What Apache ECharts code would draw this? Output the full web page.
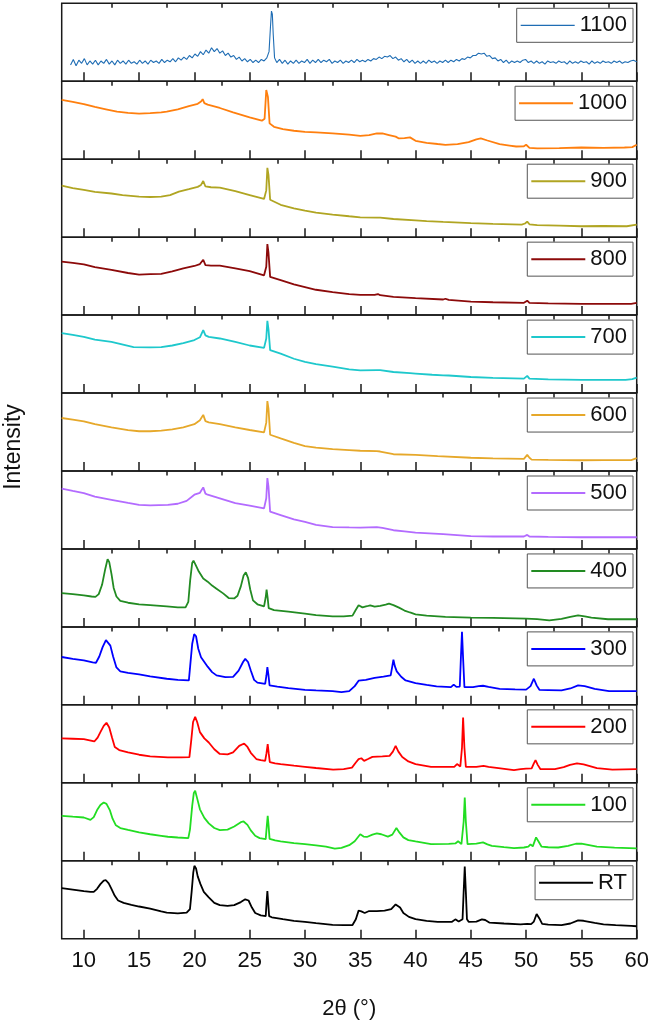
<!DOCTYPE html>
<html>
<head>
<meta charset="utf-8">
<script src="https://cdn.jsdelivr.net/npm/echarts@6/dist/echarts.min.js"></script>
<style>html,body{margin:0;padding:0;background:#fff;}#c{width:654px;height:1027px;}</style>
</head>
<body>
<div id="c"></div>
<script>
const names = ['1100','1000','900','800','700','600','500','400','300','200','100','RT'];
const colors = ['#1f6db4','#ff7f0e','#b0a522','#8c0a0a','#1ec8cc','#e6a82a','#b36bff','#228b22','#0000ff','#ff0000','#22dd22','#000000'];
const majorTicks = [10,15,20,25,30,35,40,45,50,55,60];
const minorTicks = [12.5,17.5,22.5,27.5,32.5,37.5,42.5,47.5,52.5,57.5];

const d1100 = [[8.8,21],[9.05,28],[9.3,20],[9.55,27],[9.8,23],[10.05,29],[10.3,21],[10.55,26],[10.8,22],[11.05,27],[11.3,21],[11.55,26],[11.8,23],[12.05,28],[12.3,22],[12.55,26],[12.8,21],[13.05,27],[13.3,23],[13.55,26],[13.8,22],[14.05,27],[14.3,23],[14.55,25],[14.8,22],[15.05,27],[15.3,23],[15.55,26],[15.8,22],[16.05,27],[16.3,24],[16.55,26],[16.8,23],[17.05,28],[17.3,24],[17.55,27],[17.8,25],[18.05,29],[18.3,25],[18.55,30],[18.8,27],[19.05,31],[19.3,28],[19.55,33],[19.8,30],[20.05,35],[20.3,32],[20.55,38],[20.8,34],[21.05,40],[21.3,36],[21.55,43],[21.8,38],[22.05,42],[22.3,36],[22.55,39],[22.8,33],[23.05,36],[23.3,31],[23.55,33],[23.8,28],[24.05,31],[24.3,26],[24.55,29],[24.8,25],[25.05,28],[25.3,24],[25.55,27],[25.8,24],[26.05,28],[26.3,26],[26.55,30],[26.75,38],[26.88,70],[26.97,90],[27.05,86],[27.13,60],[27.25,30],[27.45,24],[27.7,28],[27.95,23],[28.2,27],[28.45,22],[28.7,26],[28.95,23],[29.2,27],[29.45,23],[29.7,26],[29.95,24],[30.2,28],[30.45,23],[30.7,27],[30.95,24],[31.2,28],[31.45,24],[31.7,27],[31.95,25],[32.2,28],[32.45,23],[32.7,26],[32.95,24],[33.2,27],[33.45,23],[33.7,26],[33.95,24],[34.2,27],[34.45,24],[34.7,28],[34.95,25],[35.2,27],[35.45,25],[35.7,28],[35.95,26],[36.2,29],[36.45,28],[36.7,31],[36.95,29],[37.2,32],[37.45,31],[37.7,33],[37.95,29],[38.2,31],[38.45,27],[38.7,29],[38.95,25],[39.2,28],[39.45,24],[39.7,27],[39.95,23],[40.2,26],[40.45,23],[40.7,26],[40.95,23],[41.2,27],[41.45,24],[41.7,26],[41.95,23],[42.2,26],[42.45,24],[42.7,27],[42.95,24],[43.2,27],[43.45,25],[43.7,28],[43.95,26],[44.2,29],[44.45,28],[44.7,31],[44.95,30],[45.2,33],[45.45,33],[45.7,36],[45.95,35],[46.2,36],[46.45,32],[46.7,33],[46.95,29],[47.2,30],[47.45,26],[47.7,28],[47.95,24],[48.2,27],[48.45,23],[48.7,26],[48.95,24],[49.2,26],[49.45,24],[49.7,27],[49.95,28],[50.2,24],[50.45,26],[50.7,23],[50.95,26],[51.2,23],[51.45,25],[51.7,22],[51.95,26],[52.2,24],[52.45,25],[52.7,23],[52.95,26],[53.2,24],[53.45,25],[53.7,22],[53.95,26],[54.2,23],[54.45,25],[54.7,23],[54.95,26],[55.2,24],[55.45,25],[55.7,22],[55.95,26],[56.2,23],[56.45,25],[56.7,23],[56.95,26],[57.2,24],[57.45,25],[57.7,23],[57.95,26],[58.2,24],[58.45,26],[58.7,23],[58.95,25],[59.2,24],[59.45,26],[59.7,27],[59.85,29],[60,25]];
const d1000 = [[8,76],[9,73.5],[10,70.8],[11,67],[12,64],[13,61],[14,59.5],[15,58.5],[16,59],[17,60],[17.5,61],[18.5,64],[19.5,68],[20.3,71],[20.6,74],[20.75,77],[20.9,72],[21.2,70],[22.3,65.7],[23.5,60],[25,53.6],[26.1,49.4],[26.35,52],[26.5,88.8],[26.65,80],[26.8,46],[27.2,41.6],[28,38.5],[29,36.5],[30,35],[31,34.3],[32.5,33],[34,31.5],[35,30],[35.8,31],[36.5,33],[37,33],[37.6,31],[38.2,29],[38.5,26.6],[39,27],[39.5,28],[40,23.6],[41,21],[42,19.5],[42.7,18.5],[43.8,19.3],[44.8,22],[45.5,25.5],[45.9,26.6],[46.5,24],[47.6,19.3],[48.5,17.5],[49.1,16.3],[49.8,16.5],[50,18.5],[50.3,14.5],[51,14],[53,14.3],[55,15],[57,14.6],[58.9,15],[59.6,15.5],[60,18.5]];
const d900 = [[8,66],[9,63],[10,60.6],[11,58],[12.5,56],[13.5,54],[15,52],[16,51.5],[17,52],[17.8,54],[18.6,58.5],[19.5,61.5],[20.3,64.5],[20.6,67],[20.8,72],[21,65],[21.5,64],[22.3,63.5],[23.7,59],[25,54],[26.3,49],[26.5,60],[26.6,89],[26.7,80],[26.85,48],[27.8,41.5],[29,37],[30,34],[31,31.5],[32.5,29],[34,26.8],[35,25.4],[36.5,25],[36.6,26],[36.8,25],[38,23.3],[40,21.6],[41,20.5],[42.5,19.5],[45,18],[47,17],[49.6,16],[49.9,17.5],[50.1,20],[50.3,16.5],[51,15.5],[53,14.8],[55,14],[57,14.3],[59.1,14],[60,16]];
const d800 = [[8,68.7],[9,67],[10,65],[11,61.5],[12.5,58],[14,54],[15,52],[16,52.5],[17,53],[18,56],[19,60],[20,63],[20.5,65.5],[20.8,71],[21,64],[21.5,63.5],[22.3,63.5],[23.7,60],[25,56.5],[26.3,51],[26.5,62],[26.6,91],[26.7,80],[26.85,49],[27.8,45],[29,39.5],[30,36],[31,32.5],[32.5,29.6],[34,27],[35,26],[36.3,26],[36.6,27],[36.8,25.5],[38,23.5],[40,21.7],[42.5,20],[42.7,21],[43,19.5],[45,17.4],[47,16.5],[49.8,15.8],[50.1,18.5],[50.3,15.8],[52,15],[55,14.3],[57,14.3],[59.5,14.5],[60,15.6]];
const d700 = [[8,77],[9,74.5],[10,72],[11,68.5],[12.5,65.7],[14.5,59],[16,58.5],[17,59],[18,61],[19,64],[20,68],[20.5,71.5],[20.8,80.7],[21,74],[21.3,72],[22.3,70],[23.7,65.7],[25,61],[26.3,58],[26.5,70],[26.6,92.7],[26.7,82],[26.85,55],[27.8,50.6],[29,44],[30,40],[31,37],[32.5,34],[34,30.5],[35,29],[36.5,29.5],[36.6,31],[36.8,29.5],[38,27],[39.5,25.5],[39.6,26.5],[40,25],[41.5,23.5],[42.5,22.7],[42.6,24],[43,22.5],[45,20.6],[47,19.5],[49.8,18.5],[50.1,22],[50.3,18.5],[52,17.5],[55,17],[57,16.8],[59,17],[59.6,18],[60,19.7]];
const d600 = [[8,68],[9,66],[10,63.8],[11,60],[12.5,56],[14,52.5],[15,51],[16,51],[17,51.7],[18,53.5],[19,56],[20,60],[20.5,65],[20.8,72],[21,64],[21.3,62.5],[22.3,60],[23.7,56],[25,52.6],[26.3,49.6],[26.5,62],[26.6,89.7],[26.7,80],[26.85,46.5],[27.8,41.8],[29,36],[30,32],[31,30],[32.5,28],[34,26.8],[35,26],[36.5,25.5],[36.6,27],[36.8,25],[38,21.5],[40,20.7],[42,19],[45,17],[47,16.2],[49.8,15.5],[50.1,20.7],[50.3,17],[50.5,14.6],[52,14.3],[55,13.8],[57,13.9],[59.5,14],[60,16.4]];
const d500 = [[8,77.4],[9,74.5],[10,71.7],[11,67],[12.5,63],[14,59],[15,56.5],[16,56],[17.6,56.5],[18.5,58],[19.3,61.7],[20,69.6],[20.5,72],[20.8,79],[21,71],[21.2,69.6],[22.3,65],[23.7,58.7],[25,55.7],[26.3,52],[26.5,65],[26.6,91],[26.7,80],[26.85,47.8],[27.8,43.5],[29,38],[30,34.8],[31,31],[32.5,28],[34,27.6],[35,27.4],[36.5,28],[37,27],[38,24],[39,22.5],[40,21],[42.5,19],[45,16.5],[47,16],[49.8,16],[50.1,18],[50.3,16],[52,15.5],[55,15],[57,15.2],[59.5,15],[60,15]];
const d400 = [[8,43.4],[9,42],[10,40.4],[10.7,39],[11.05,38.5],[11.35,42],[11.65,54],[11.95,75],[12.15,87],[12.3,83],[12.5,68],[12.7,50],[12.95,39],[13.3,33.5],[14,31],[15,29],[16,28],[17.5,26.4],[18.5,25],[19.2,25],[19.45,32],[19.62,60],[19.8,82],[19.92,85],[20.1,80],[20.4,71],[20.8,62],[21.2,58],[21.6,53],[22,49],[22.6,43],[23.1,37],[23.6,36.5],[23.9,40],[24.2,52],[24.45,66],[24.65,70],[24.85,63],[25.05,48],[25.3,34],[25.7,29],[26.3,26.4],[26.45,38],[26.53,47.7],[26.62,38],[26.72,24],[27.2,21.5],[28.5,19.5],[30,17],[31,15],[32.5,13.6],[33.5,13.4],[34.3,14.5],[34.6,22],[34.85,27.7],[35.2,25],[35.6,26.5],[35.9,27.7],[36.3,26],[36.8,27],[37.3,28.5],[37.6,29.8],[38,28],[38.5,24.7],[39,21],[39.5,18.5],[40,16.2],[41,14.5],[42.7,12.8],[45,11.9],[47,11.5],[50,10.6],[51,10],[52.1,8.5],[53.2,10.2],[54,13],[54.7,14.9],[55.3,13.5],[55.9,11.9],[57.4,9.8],[60,9.8]];
const d300 = [[8,61.4],[9,59],[10,57],[10.8,54.5],[11.1,54],[11.4,62],[11.7,74],[12.0,83],[12.15,83.7],[12.4,76],[12.65,62],[12.95,48],[13.3,43],[14,41],[15,39],[16,36.5],[17.5,33.5],[18.5,32],[19.5,31.3],[19.62,50],[19.8,78],[19.98,90.6],[20.15,88],[20.35,72],[20.6,61],[21.2,49],[21.6,42],[22,37.8],[22.8,35.6],[23.5,36],[24,44],[24.4,55],[24.6,59],[24.85,55],[25.1,44],[25.4,32],[25.7,28.5],[26.4,27],[26.52,38],[26.6,48.5],[26.7,38],[26.8,25],[27.5,23.5],[28.5,21.5],[30,19.3],[31,18.5],[32.5,17.6],[33.3,16.3],[34.0,17.5],[34.5,24],[34.85,31],[35.5,32],[36.3,34.5],[37.1,36.3],[37.75,37.8],[37.88,48],[38.0,58],[38.12,50],[38.3,43],[38.7,36],[39.1,31.3],[40,27.9],[41,25.5],[41.9,23.6],[43.2,22.7],[43.45,26],[43.7,23],[44.0,23.5],[44.1,60],[44.2,93.6],[44.3,60],[44.42,22.7],[45.2,22.7],[45.7,24],[46.1,24.5],[46.6,23],[47.6,20.6],[49,19.8],[50,19.5],[50.4,24],[50.7,33.5],[50.95,25],[51.2,19.3],[52,19],[53.2,18.5],[54,21],[54.7,24.9],[55.3,24],[56.2,20.6],[57.5,17.6],[60,17.6]];
const d200 = [[8,57],[9,56.5],[10,56],[10.95,53],[11.25,58],[11.5,65],[11.8,73],[12.05,77],[12.3,71],[12.55,58],[12.8,46],[13.2,42],[14,39],[15,36],[16,34],[17.6,32.5],[18.8,32.5],[19.55,33],[19.72,55],[19.88,78],[20.07,84.6],[20.25,78],[20.5,65],[20.9,57],[21.3,51.7],[21.8,43],[22.3,37],[23.0,36.5],[23.5,39],[24.05,47.4],[24.5,50.4],[24.8,46],[25.1,38.5],[25.6,30.5],[26.0,29],[26.4,28.2],[26.52,38],[26.63,49.6],[26.72,38],[26.82,26.5],[27.3,25],[27.8,24],[29,22],[30,20.5],[31,19],[32.55,17],[33.5,17.5],[34.25,19.5],[34.6,26],[34.85,30.3],[35.1,31.5],[35.35,28.2],[35.7,30.5],[36.1,33.3],[37,34],[37.65,34.6],[37.95,40],[38.2,47.4],[38.45,40],[38.8,33],[39.35,27.4],[40,24],[41.4,20.5],[43.5,20.5],[43.75,24],[44.05,21],[44.2,45],[44.3,83.8],[44.42,45],[44.55,20.5],[45.5,20.5],[46.15,21.8],[46.6,20.3],[47.5,18.8],[48.9,16.2],[49.5,17.5],[50,18.3],[50.5,18.5],[50.7,25],[50.85,29],[51.05,23],[51.3,17.5],[52.6,17.5],[53.4,20],[53.97,23],[54.6,24.8],[55.2,23.5],[56.4,18.8],[57.8,17],[60,17.5]];
const d100 = [[8,57.7],[9,56.5],[10,55.5],[10.6,52.5],[10.9,56],[11.2,65],[11.5,71.5],[11.8,74.8],[12.05,73],[12.35,65],[12.6,54],[12.9,45.5],[13.3,42],[14,39.5],[15,36.3],[16,34],[17,32],[17.6,30.8],[18.5,29.8],[19.45,29],[19.6,40],[19.8,70],[19.95,87],[20.07,89.7],[20.25,80],[20.5,66],[20.9,55],[21.3,48],[21.8,42],[22.3,39.3],[23.0,40],[23.6,44],[24.2,49.5],[24.45,50.4],[24.8,46],[25.1,39],[25.5,32],[25.9,29],[26.45,27.8],[26.55,45],[26.63,57.7],[26.71,45],[26.8,28],[27.3,26],[27.8,24.8],[29,22.5],[30,21.4],[31,19.8],[31.9,18],[32.7,15.5],[33.3,16.5],[34.0,20],[34.5,25],[35.0,34],[35.3,31],[35.6,30.5],[36.1,33.5],[36.5,35],[36.9,34],[37.5,31],[37.9,33.5],[38.27,41.9],[38.55,36],[38.9,30],[39.35,26.5],[40,24.8],[41.4,21.4],[43,21.6],[43.6,22.2],[43.85,25],[44.15,21.4],[44.35,50],[44.45,81.2],[44.55,50],[44.7,21.4],[45.5,22],[46.1,23.5],[46.5,21],[46.9,19.2],[48,17.5],[48.9,16.2],[49.8,17],[50.2,18],[50.4,21],[50.6,18.5],[50.9,30],[51.15,24],[51.4,18],[52,17.3],[52.9,17],[53.8,19],[54.5,21.8],[55,22],[55.7,20],[56.4,18],[58,16.8],[60,15.8]];
const dRT = [[8,65],[9,63],[10,61],[10.6,60],[10.9,60],[11.2,64],[11.5,70],[11.8,74.5],[12.0,75],[12.25,71],[12.5,64],[12.8,55],[13.1,49],[13.6,46],[14.3,43.5],[15,41.3],[16,38.5],[17,35],[17.5,33.5],[18.5,32.6],[19.3,33.5],[19.6,38],[19.75,60],[19.9,85],[20.0,93.5],[20.15,90],[20.3,80],[20.55,70],[20.85,60],[21.3,53],[21.8,46],[22.3,43],[23.0,42],[23.6,43],[24.2,47],[24.6,50.5],[24.9,49],[25.2,40],[25.5,33],[26.0,30],[26.45,29],[26.52,45],[26.6,61],[26.68,45],[26.76,29],[27,27.5],[28,25],[29,23],[30,21.7],[31,20],[32.5,17.8],[33.5,17.4],[34.3,17.6],[34.6,25],[34.85,36],[35.1,35],[35.4,33],[35.8,35.5],[36.5,35.5],[37.2,36],[37.8,38],[38.2,44],[38.35,46.5],[38.6,40],[38.9,33],[39.4,28],[40,25],[41,23],[42,21.7],[43.3,21.7],[43.6,24.8],[43.9,22],[44.25,25],[44.35,60],[44.45,92.6],[44.55,60],[44.65,25],[44.8,21.7],[45.5,22],[46.0,24.8],[46.3,24],[46.7,20.5],[48,19.5],[49.5,18.5],[50.1,19],[50.25,21.5],[50.45,18.7],[50.7,22],[50.95,31.7],[51.2,26],[51.45,19],[52,18],[53.2,17.4],[54,19.5],[54.7,23.5],[55.2,23],[56.2,20.4],[57,18.5],[58.1,17.4],[59.5,16.5],[60,16]];

const allData = [d1100,d1000,d900,d800,d700,d600,d500,d400,d300,d200,d100,dRT];

const FONT = 'Arial, "Liberation Sans", sans-serif';
const TOP = 3.3, H = 77.95, LEFT = 61.7, W = 575;
const grids = [], xAxes = [], yAxes = [], series = [], legends = [];
names.forEach((nm, i) => {
  const top = TOP + i * H;
  const last = i === names.length - 1;
  grids.push({left: LEFT, top: top, width: W, height: H, show: true, borderColor: '#1a1a1a', borderWidth: 1.5, backgroundColor: 'transparent'});
  xAxes.push({
    gridIndex: i, type: 'value', min: 8, max: 60,
    axisLine: {show: false}, splitLine: {show: false},
    axisTick: {show: true, inside: true, length: 9, customValues: majorTicks, lineStyle: {color: '#1a1a1a', width: 1.5}},
    axisLabel: {show: last, customValues: majorTicks, fontSize: 22, color: '#111', fontFamily: FONT, margin: 11},
    name: last ? '2θ (°)' : '', nameLocation: 'middle', nameGap: 59,
    nameTextStyle: {fontSize: 22, color: '#111', fontFamily: FONT}
  });
  xAxes.push({
    gridIndex: i, type: 'value', min: 8, max: 60,
    axisLine: {show: false}, splitLine: {show: false},
    axisTick: {show: true, inside: true, length: 4.5, customValues: minorTicks, lineStyle: {color: '#1a1a1a', width: 1.5}},
    axisLabel: {show: false}
  });
  yAxes.push({gridIndex: i, type: 'value', min: 0, max: 100, show: false});
  series.push({
    type: 'line', name: nm, xAxisIndex: 2 * i, yAxisIndex: i,
    data: allData[i], symbol: 'none', showSymbol: false, smooth: false,
    lineStyle: {width: i === 0 ? 1.1 : 1.8, color: colors[i]}, itemStyle: {color: colors[i]},
    animation: false
  });
  legends.push({
    data: [nm], right: 21, top: top + 5, orient: 'horizontal', selectedMode: false,
    icon: 'rect', itemWidth: 54, itemHeight: i === 0 ? 1.3 : 2, itemGap: 0,
    borderColor: '#555', borderWidth: 1, padding: [6, 6, 6, 4],
    textStyle: {fontSize: 22, color: '#111', fontFamily: FONT}
  });
});

const chart = echarts.init(document.getElementById('c'), null, {renderer: 'canvas'});
chart.setOption({
  animation: false,
  backgroundColor: '#fff',
  grid: grids, xAxis: xAxes, yAxis: yAxes, series: series, legend: legends,
  graphic: [{
    type: 'text', x: 14, y: 447, rotation: Math.PI / 2,
    style: {text: 'Intensity', fontSize: 23, fill: '#111', fontFamily: FONT, textAlign: 'center', textVerticalAlign: 'middle'}
  }]
});
</script>
</body>
</html>
